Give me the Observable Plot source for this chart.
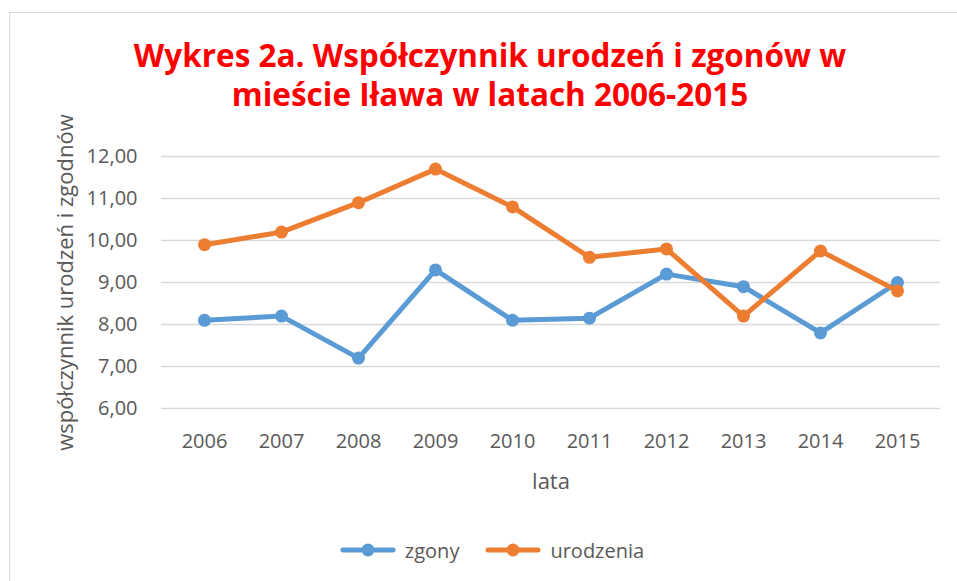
<!DOCTYPE html>
<html><head><meta charset="utf-8">
<script src="https://cdn.jsdelivr.net/npm/d3@7"></script>
<script src="https://cdn.jsdelivr.net/npm/@observablehq/plot@0.6"></script>
<style>
html,body{margin:0;padding:0;background:#fff;overflow:hidden;}
body{width:957px;height:581px;position:relative;font-family:"Open Sans",sans-serif;}
#frame{position:absolute;left:9px;top:12px;width:1000px;height:700px;border:1px solid #d9d9d9;box-sizing:border-box;}
#title{position:absolute;left:0;width:980px;top:35px;text-align:center;color:#ff0000;font-weight:bold;font-size:31.5px;line-height:39px;white-space:nowrap;}
#chart{position:absolute;left:0;top:130px;}
#legend{position:absolute;top:535px;left:0;width:984px;height:30px;display:flex;justify-content:center;align-items:center;color:#595959;font-size:20px;}
.item{display:flex;align-items:center;}
.item svg{margin-right:9px;}
.item + .item{margin-left:26px;}
</style>
</head><body>
<div id="frame"></div>
<div id="title">Wykres 2a. Współczynnik urodzeń i zgonów w<br>mieście Iława w latach 2006-2015</div>
<div id="chart"></div>
<div id="legend"></div>
<script>
const years = ["2006","2007","2008","2009","2010","2011","2012","2013","2014","2015"];
const zgony = [8.1, 8.2, 7.2, 9.3, 8.1, 8.15, 9.2, 8.9, 7.8, 9.0];
const urodzenia = [9.9, 10.2, 10.9, 11.7, 10.8, 9.6, 9.8, 8.2, 9.75, 8.8];
const yTicks = [6, 7, 8, 9, 10, 11, 12];
const seriesNames = ["zgony", "urodzenia"];
const colors = ["#5B9BD5", "#ED7D31"];
const seriesValues = [zgony, urodzenia];
const xTitle = "lata";
const yTitle = "współczynnik urodzeń i zgodnów";

const fmt = d => d.toFixed(2).replace(".", ",");

const marks = [
  Plot.ruleY(yTicks, {stroke: "#d9d9d9", strokeWidth: 1.3}),
  Plot.axisX({tickSize: 0, tickPadding: 25, fontSize: 20, label: null}),
  Plot.axisX({ticks: [], label: xTitle, labelAnchor: "center", labelArrow: false, labelOffset: 80, fontSize: 22}),
  Plot.axisY({ticks: yTicks, tickFormat: fmt, tickSize: 0, tickPadding: 24, fontSize: 20, label: null}),
  Plot.axisY({ticks: [], label: yTitle, labelAnchor: "center", labelArrow: false, labelOffset: 104, fontSize: 22})
];
seriesValues.forEach((vals, s) => {
  const rows = years.map((y, i) => ({year: y, value: vals[i]}));
  marks.push(Plot.line(rows, {x: "year", y: "value", stroke: colors[s], strokeWidth: 5, strokeLinejoin: "round", strokeLinecap: "round"}));
  marks.push(Plot.dot(rows, {x: "year", y: "value", fill: colors[s], r: 6.5, stroke: "none"}));
});

const chart = Plot.plot({
  width: 957, height: 380,
  marginLeft: 161, marginRight: 17, marginTop: 26, marginBottom: 102,
  style: {fontFamily: "'Open Sans', sans-serif", fontSize: "20px", color: "#595959", background: "transparent", overflow: "visible"},
  x: {type: "point", domain: years, padding: 0.5},
  y: {domain: [6, 12]},
  marks
});
document.getElementById("chart").appendChild(chart);

const legend = document.getElementById("legend");
seriesNames.forEach((name, s) => {
  const item = document.createElement("div");
  item.className = "item";
  item.innerHTML = `<svg width="56" height="16"><line x1="3" x2="53" y1="8" y2="8" stroke="${colors[s]}" stroke-width="5" stroke-linecap="round"/><circle cx="28" cy="8" r="6.5" fill="${colors[s]}"/></svg><span>${name}</span>`;
  legend.appendChild(item);
});
</script>
</body></html>
